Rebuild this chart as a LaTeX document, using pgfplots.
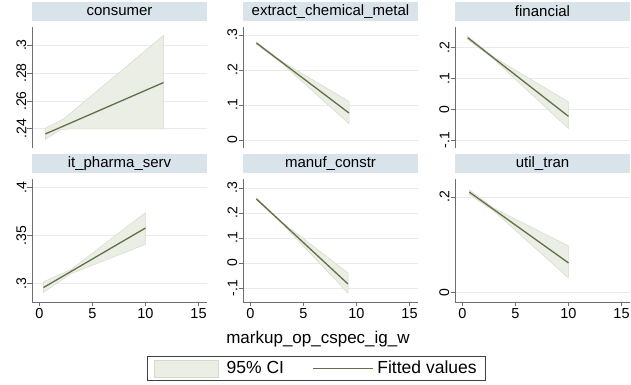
\documentclass[border=0pt]{standalone}
\usepackage{fontspec}
\setmainfont{Liberation Sans}
\usepackage{pgfplots}
\pgfplotsset{compat=1.18}

\definecolor{stripc}{RGB}{217,227,234}
\definecolor{gridc}{RGB}{234,234,234}
\definecolor{axisc}{RGB}{110,110,110}
\definecolor{cif}{RGB}{235,238,229}
\definecolor{cie}{RGB}{212,219,202}
\definecolor{linec}{RGB}{96,112,72}

\pgfplotsset{
 panel/.style={
  scale only axis, width=175pt,
  xmin=-0.7, xmax=15.8,
  axis y line*=left,
  separate axis lines,
  y axis line style={draw=axisc, line width=0.8pt, -},
  ymajorgrids, major grid style={draw=gridc, line width=0.8pt},
  tick align=outside, major tick length=4.5pt,
  tick style={draw=axisc, line width=0.8pt},
  yticklabel style={rotate=90, anchor=south, font=\fontsize{14}{14}\selectfont, inner sep=1pt},
  title style={at={(0.5,1)}, anchor=south, yshift=0pt, fill=stripc, minimum width=175pt, minimum height=19pt, inner sep=0pt, font=\fontsize{15}{15}\selectfont},
 },
 toprow/.style={panel, height=121pt, axis x line=none, xtick=\empty},
 botrow/.style={panel, height=123pt, axis x line*=bottom,
  x axis line style={draw=axisc, line width=0.8pt, -},
  xtick={0,5,10,15}, xticklabels={0,5,10,15},
  xticklabel style={font=\fontsize{14.5}{14.5}\selectfont, inner sep=2pt}},
 ci/.style={fill=cif, draw=cie, line width=0.5pt},
 fit/.style={draw=linec, line width=1.3pt},
 cileg/.style={legend image code/.code={\draw[##1] (0pt,-8.5pt) rectangle (64pt,8.5pt);}},
 fitleg/.style={legend image code/.code={\draw[##1] (0pt,0pt) -- (60pt,0pt);}},
}

\begin{document}
\begin{tikzpicture}
\useasboundingbox (0pt,0pt) rectangle (631pt,385pt);

% consumer
\begin{axis}[toprow, at={(32pt,237pt)}, anchor=south west, title={consumer},
  ymin=0.2263, ymax=0.313, ytick={0.24,0.26,0.28,0.3}, yticklabels={.24,.26,.28,.3}]
\addplot[ci] coordinates {(0.57,0.2405) (2.3,0.2472) (11.7,0.307) (11.7,0.24) (3.0,0.24) (2.0,0.2395) (0.57,0.2325)} -- cycle;
\addplot[fit] coordinates {(0.57,0.2364) (11.7,0.2732)};
\end{axis}

% extract_chemical_metal
\begin{axis}[toprow, at={(243pt,237pt)}, anchor=south west, title={extract\_chemical\_metal},
  ymin=-0.023, ymax=0.323, ytick={0,0.1,0.2,0.3}, yticklabels={0,.1,.2,.3}]
\addplot[ci] coordinates {(0.57,0.280) (3,0.224) (9.3,0.110) (9.3,0.046) (3,0.218) (0.57,0.274)} -- cycle;
\addplot[fit] coordinates {(0.57,0.277) (9.3,0.077)};
\end{axis}

% financial
\begin{axis}[toprow, at={(455pt,237pt)}, anchor=south west, title={financial},
  ymin=-0.126, ymax=0.268, ytick={-0.1,0,0.1,0.2}, yticklabels={-.1,0,.1,.2}]
\addplot[ci] coordinates {(0.5,0.238) (3,0.169) (10,0.024) (10,-0.063) (3,0.162) (0.5,0.228)} -- cycle;
\addplot[fit] coordinates {(0.5,0.233) (10,-0.023)};
\end{axis}

% it_pharma_serv
\begin{axis}[botrow, at={(32pt,83pt)}, anchor=south west, title={it\_pharma\_serv},
  ymin=0.281, ymax=0.409, ytick={0.3,0.35,0.4}, yticklabels={.3,.35,.4}]
\addplot[ci] coordinates {(0.38,0.302) (3,0.315) (10,0.374) (10,0.341) (3,0.3105) (0.38,0.291)} -- cycle;
\addplot[fit] coordinates {(0.38,0.296) (10,0.358)};
\end{axis}

% manuf_constr
\begin{axis}[botrow, at={(243pt,83pt)}, anchor=south west, title={manuf\_constr},
  ymin=-0.156, ymax=0.336, ytick={-0.1,0,0.1,0.2,0.3}, yticklabels={-.1,0,.1,.2,.3},
  legend style={at={(-0.549,-0.439)}, anchor=north west, draw=black!75, line width=0.6pt,
    font=\fontsize{17.5}{19}\selectfont, inner xsep=7pt, inner ysep=3pt,
    /tikz/every even column/.append style={column sep=26pt}},
  legend columns=2]
\addplot[ci, cileg] coordinates {(0.57,0.260) (3,0.163) (9.2,-0.04) (9.2,-0.12) (3,0.157) (0.57,0.252)} -- cycle;
\addlegendentry{\hspace{6pt}95\% CI}
\addplot[fit, fitleg] coordinates {(0.57,0.256) (9.2,-0.084)};
\addlegendentry{\hspace{2pt}Fitted values}
\end{axis}

% util_tran
\begin{axis}[botrow, at={(455pt,83pt)}, anchor=south west, title={util\_tran},
  ymin=-0.019, ymax=0.2375, ytick={0,0.2}, yticklabels={0,.2}]
\addplot[ci] coordinates {(0.66,0.215) (3,0.176) (10,0.098) (10,0.031) (3,0.170) (0.66,0.205)} -- cycle;
\addplot[fit] coordinates {(0.66,0.21) (10,0.0625)};
\end{axis}

\node[font=\fontsize{17}{17}\selectfont] at (318pt,46pt) {markup\_op\_cspec\_ig\_w};
\end{tikzpicture}
\end{document}
